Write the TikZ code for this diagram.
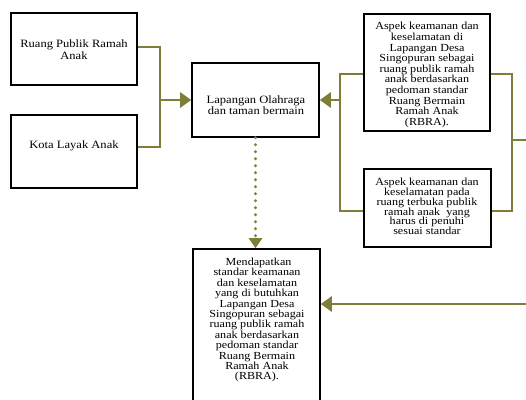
\documentclass[tikz,border=0pt]{standalone}
\usepackage{fontspec}
\setmainfont{Liberation Serif}
\newfontfamily\wideserif[FakeStretch=1.12]{Liberation Serif}
\usetikzlibrary{arrows.meta}
\definecolor{lineolive}{RGB}{126,126,58}
\begin{document}
\begin{tikzpicture}[x=1pt,y=-1pt,
  boxnode/.style={draw=black,line width=1.6pt,fill=white,inner sep=0pt,outer sep=0.8pt},
  txtA/.style={align=center,inner sep=0pt,text=black,font={\wideserif\fontsize{11.2}{11.5}\selectfont\lineskiplimit=-20pt}},
  txtB/.style={align=center,inner sep=0pt,text=black,font={\wideserif\fontsize{10.8}{10.6}\selectfont\lineskiplimit=-20pt}},
  conn/.style={draw=lineolive,line width=2.8pt},
  tipA/.style={-{Triangle[length=11pt,width=15pt]}}
]
\useasboundingbox (0,0) rectangle (526,399);
\clip (0,0) rectangle (526,399);

% boxes
\node[boxnode,minimum width=126pt,minimum height=72pt] (b1) at (74,49) {};
\node[boxnode,minimum width=126pt,minimum height=73pt] (b2) at (74,151.5) {};
\node[boxnode,minimum width=127pt,minimum height=74pt] (b3) at (255.5,100) {};
\node[boxnode,minimum width=126pt,minimum height=117pt] (b4) at (427,72.5) {};
\node[boxnode,minimum width=127pt,minimum height=78pt] (b5) at (427.5,208) {};
\node[boxnode,minimum width=127pt,minimum height=171pt] (b6) at (256.5,334.5) {};

% texts
\node[txtA] (t1) at (74,49.5) {Ruang Publik Ramah\\Anak};
\node[txtA] (t2) at (74,146) {Kota Layak Anak};
\node[txtA] (t3) at (256,105) {Lapangan Olahraga\\dan taman bermain};
\node[txtB] (t4) at (427,75) {Aspek keamanan dan\\keselamatan di\\Lapangan Desa\\Singopuran sebagai\\ruang publik ramah\\anak berdasarkan\\pedoman standar\\Ruang Bermain\\Ramah Anak\\(RBRA).};
\node[txtB,font={\wideserif\fontsize{10.8}{9.8}\selectfont\lineskiplimit=-20pt}] (t5) at (427,206.5) {Aspek keamanan dan\\keselamatan pada\\ruang terbuka publik\\ramah anak\ \ yang\\harus di penuhi\\sesuai standar};
\node[txtB,font={\wideserif\fontsize{10.8}{10.4}\selectfont\lineskiplimit=-20pt}] (t6) at (257,320) {\ Mendapatkan\\standar keamanan\\dan keselamatan\\yang di butuhkan\\Lapangan Desa\\Singopuran sebagai\\ruang publik ramah\\anak berdasarkan\\pedoman standar\\Ruang Bermain\\Ramah Anak\\(RBRA).};

% junctions
\coordinate (j1) at (160,100);
\coordinate (j2) at (340,100);
\coordinate (j3) at (512,140);
\coordinate (e1) at (530,140);
\coordinate (e2) at (530,304);

% left connectors
\draw[conn] ([yshift=2pt]b1.east) -| (j1) |- ([yshift=4.5pt]b2.east);
\draw[conn,tipA] (j1) -- (b3.west);

% right connectors
\draw[conn] ([yshift=-1.5pt]b4.west) -| (j2) |- ([yshift=-3pt]b5.west);
\draw[conn,tipA] (j2) -- (b3.east);
\draw[conn] ([yshift=-1.5pt]b4.east) -| (j3) |- ([yshift=-3pt]b5.east);
\draw[conn] (j3) -- (e1);
\draw[conn,tipA] (e2) -- ([yshift=30.5pt]b6.east);

% dotted connector
\draw[conn,line width=3.2pt,line cap=round,dash pattern=on 0pt off 7pt,-{Triangle[length=10pt,width=13pt]}] (b3.south) -- (b3.south |- b6.north);
\end{tikzpicture}
\end{document}
